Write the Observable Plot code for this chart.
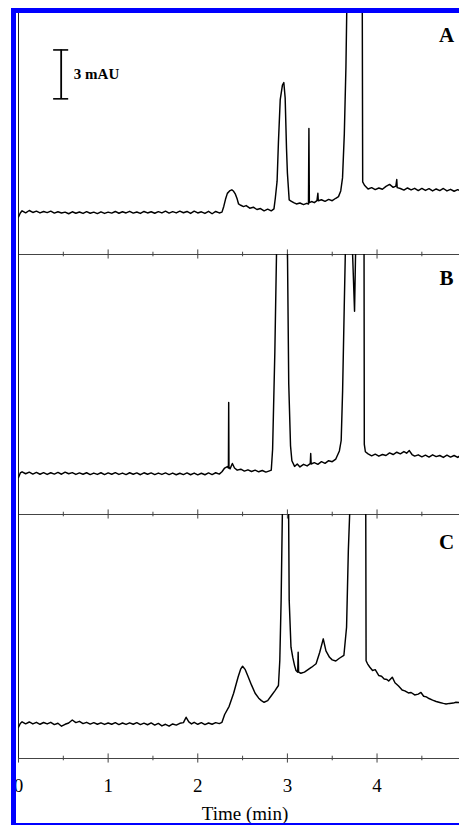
<!DOCTYPE html>
<html>
<head>
<meta charset="utf-8">
<script src="https://cdn.jsdelivr.net/npm/d3@7"></script>
<script src="https://cdn.jsdelivr.net/npm/@observablehq/plot@0.6"></script>
<style>
html, body { margin: 0; padding: 0; background: #fff; }
#wrap { position: relative; width: 459px; height: 825px; overflow: hidden; background: #fff; }
.panel { position: absolute; left: 0; }
.blue { position: absolute; background: #0000ff; z-index: 10; }
</style>
</head>
<body>
<div id="wrap"></div>
<script>
// ---------------- DATA (time in min, absorbance in mAU above panel baseline) ----------------
const majorTicks = [0, 1, 2, 3, 4];
const minorTicks = [0.5, 1.5, 2.5, 3.5, 4.5];
const tickLabels = ["0", "1", "2", "3", "4"];
const panelLabels = ["A", "B", "C"];
const scaleBarMAU = 3;
const scaleBarText = "3 mAU";
const xTitle = "Time (min)";

const traceA = [
[0,2.30],[0.02,2.55],[0.04,2.68],[0.08,2.56],[0.12,2.70],[0.16,2.58],[0.20,2.66],[0.24,2.55],[0.28,2.64],[0.32,2.57],
[0.36,2.66],[0.40,2.54],[0.44,2.62],[0.48,2.55],[0.52,2.60],[0.56,2.50],[0.60,2.62],[0.64,2.53],[0.68,2.61],[0.72,2.52],
[0.76,2.63],[0.80,2.53],[0.84,2.60],[0.88,2.51],[0.92,2.62],[0.96,2.52],[1.00,2.60],[1.04,2.54],[1.08,2.64],[1.12,2.53],
[1.16,2.62],[1.20,2.55],[1.24,2.65],[1.28,2.54],[1.32,2.61],[1.36,2.52],[1.40,2.64],[1.44,2.55],[1.48,2.62],[1.52,2.53],
[1.56,2.63],[1.60,2.55],[1.64,2.66],[1.68,2.54],[1.72,2.63],[1.76,2.55],[1.80,2.66],[1.84,2.56],[1.88,2.64],[1.92,2.52],
[1.96,2.66],[2.00,2.55],[2.04,2.62],[2.08,2.52],[2.12,2.65],[2.16,2.50],[2.20,2.64],[2.24,2.55],
[2.27,2.60],[2.29,2.95],[2.31,3.40],[2.33,3.75],[2.36,3.92],[2.38,3.97],[2.40,3.88],[2.42,3.70],[2.44,3.40],[2.455,3.10],
[2.48,3.02],[2.51,2.94],[2.54,3.00],[2.58,2.84],[2.62,2.90],[2.66,2.76],[2.70,2.82],[2.74,2.68],[2.78,2.78],[2.82,2.68],
[2.85,2.80],[2.865,3.45],[2.885,4.5],[2.90,6.9],[2.92,9.5],[2.945,10.4],[2.96,10.55],[2.975,9.6],[2.99,6.5],[3.00,5.0],
[3.02,3.35],[3.04,3.28],[3.07,3.18],[3.10,3.10],[3.14,3.16],[3.18,3.06],[3.215,3.14],[3.235,3.10],[3.24,7.73],[3.245,3.18],
[3.27,3.25],[3.30,3.18],[3.33,3.30],[3.34,3.76],[3.345,3.30],[3.38,3.36],[3.42,3.26],[3.46,3.38],[3.50,3.30],[3.54,3.45],
[3.57,3.55],[3.595,3.9],[3.615,4.7],[3.635,7.4],[3.653,11.5],[3.665,16],[3.75,45],[3.835,16],[3.84,4.45],[3.86,4.25],
[3.90,4.02],[3.94,4.10],[3.98,3.98],[4.02,4.08],[4.06,4.00],[4.10,4.18],[4.14,4.30],[4.18,4.12],[4.21,4.20],[4.22,4.60],
[4.225,4.10],[4.26,4.05],[4.30,3.95],[4.34,4.08],[4.38,3.96],[4.42,4.06],[4.46,3.92],[4.50,4.05],[4.54,3.93],[4.58,4.04],
[4.62,3.90],[4.66,4.02],[4.70,3.92],[4.74,4.05],[4.78,3.90],[4.82,4.00],[4.86,3.88],[4.90,3.98],[4.92,3.93]
];

const traceB = [
[0,2.27],[0.02,2.55],[0.04,2.62],[0.08,2.50],[0.12,2.60],[0.16,2.48],[0.20,2.58],[0.24,2.47],[0.28,2.57],[0.32,2.46],
[0.36,2.56],[0.40,2.48],[0.44,2.58],[0.48,2.47],[0.52,2.60],[0.56,2.50],[0.60,2.57],[0.64,2.46],[0.68,2.55],[0.72,2.47],
[0.76,2.56],[0.80,2.45],[0.84,2.54],[0.88,2.46],[0.92,2.56],[0.96,2.45],[1.00,2.55],[1.04,2.47],[1.08,2.57],[1.12,2.46],
[1.16,2.54],[1.20,2.45],[1.24,2.56],[1.28,2.47],[1.32,2.55],[1.36,2.44],[1.40,2.56],[1.44,2.47],[1.48,2.55],[1.52,2.45],
[1.56,2.54],[1.60,2.46],[1.64,2.55],[1.68,2.45],[1.72,2.54],[1.76,2.44],[1.80,2.53],[1.84,2.45],[1.88,2.55],[1.92,2.44],
[1.96,2.54],[2.00,2.43],[2.04,2.53],[2.08,2.44],[2.12,2.55],[2.16,2.45],[2.20,2.56],[2.24,2.48],
[2.27,2.62],[2.30,2.85],[2.33,2.94],[2.342,2.85],[2.345,6.87],[2.348,2.90],[2.36,2.80],[2.386,3.13],[2.41,2.85],[2.44,2.72],
[2.48,2.78],[2.52,2.66],[2.56,2.74],[2.60,2.64],[2.64,2.72],[2.68,2.62],[2.72,2.70],[2.76,2.60],[2.80,2.68],[2.82,2.72],
[2.835,4.0],[2.86,10],[2.88,16.5],[2.94,30],[3.00,16.5],[3.015,8],[3.035,4.2],[3.05,3.3],[3.08,2.95],[3.11,3.10],
[3.14,2.92],[3.18,3.08],[3.22,2.98],[3.255,3.12],[3.26,3.74],[3.265,3.10],[3.30,3.18],[3.34,3.08],[3.38,3.24],[3.42,3.14],
[3.46,3.30],[3.50,3.24],[3.54,3.40],[3.58,3.9],[3.60,4.54],[3.616,7.6],[3.634,12.7],[3.648,16.5],[3.69,30],[3.724,16.5],
[3.749,12.47],[3.762,16.5],[3.80,30],[3.855,16.5],[3.858,4.3],[3.87,3.85],[3.90,3.72],[3.94,3.60],[3.98,3.70],[4.02,3.58],
[4.06,3.68],[4.10,3.62],[4.14,3.78],[4.18,3.68],[4.22,3.82],[4.26,3.72],[4.30,3.86],[4.33,3.76],[4.36,3.92],[4.39,3.68],
[4.42,3.58],[4.46,3.66],[4.50,3.54],[4.54,3.64],[4.58,3.52],[4.62,3.66],[4.66,3.55],[4.70,3.62],[4.74,3.50],[4.78,3.64],
[4.82,3.52],[4.86,3.62],[4.90,3.50],[4.92,3.58]
];

const traceC = [
[0,1.92],[0.02,2.15],[0.04,2.25],[0.08,2.13],[0.12,2.24],[0.16,2.12],[0.20,2.22],[0.24,2.10],[0.28,2.21],[0.32,2.12],
[0.36,2.22],[0.40,2.08],[0.44,2.16],[0.48,1.98],[0.52,2.10],[0.56,2.18],[0.60,2.36],[0.64,2.20],[0.68,2.28],[0.72,2.14],
[0.76,2.22],[0.80,2.11],[0.84,2.20],[0.88,2.10],[0.92,2.19],[0.96,2.09],[1.00,2.18],[1.04,2.10],[1.08,2.20],[1.12,2.08],
[1.16,2.18],[1.20,2.09],[1.24,2.19],[1.28,2.10],[1.32,2.20],[1.36,2.08],[1.40,2.17],[1.44,2.07],[1.48,2.18],[1.52,2.05],
[1.56,2.15],[1.60,2.00],[1.64,2.10],[1.68,1.98],[1.72,2.12],[1.76,2.05],[1.80,2.16],[1.84,2.20],[1.87,2.53],[1.90,2.25],
[1.93,2.12],[1.96,2.22],[2.00,2.10],[2.04,2.20],[2.08,2.08],[2.12,2.18],[2.16,2.10],[2.20,2.20],[2.24,2.14],[2.27,2.22],
[2.30,2.70],[2.35,3.20],[2.40,4.00],[2.45,5.00],[2.48,5.50],[2.50,5.66],[2.53,5.45],[2.56,5.05],[2.60,4.50],[2.64,4.00],
[2.68,3.70],[2.71,3.55],[2.74,3.45],[2.78,3.55],[2.82,3.85],[2.86,4.15],[2.90,4.48],[2.915,6.0],[2.93,9.7],[2.945,15.5],
[2.98,30],[3.013,15.5],[3.02,9.7],[3.04,6.83],[3.06,6.2],[3.08,5.7],[3.096,5.4],[3.115,5.3],[3.12,6.52],[3.125,5.3],
[3.15,5.23],[3.19,5.30],[3.23,5.45],[3.27,5.60],[3.32,5.81],[3.36,6.50],[3.40,7.34],[3.43,6.60],[3.47,6.21],[3.50,6.05],
[3.54,5.98],[3.58,6.15],[3.63,6.32],[3.66,8.05],[3.68,12.8],[3.698,15.5],[3.79,35],[3.874,15.5],[3.878,6.0],[3.894,5.81],
[3.92,5.60],[3.95,5.40],[3.98,5.45],[4.02,5.09],[4.05,5.05],[4.08,4.88],[4.11,4.85],[4.13,4.75],[4.17,4.99],[4.20,4.65],
[4.24,4.45],[4.28,4.20],[4.31,4.15],[4.35,4.02],[4.38,4.05],[4.42,3.90],[4.46,3.95],[4.49,4.05],[4.52,3.82],[4.55,3.78],
[4.58,3.68],[4.62,3.58],[4.66,3.50],[4.70,3.44],[4.74,3.38],[4.77,3.34],[4.81,3.38],[4.85,3.40],[4.88,3.45],[4.92,3.44]
];

// ---------------- LAYOUT ----------------
const W = 459, ML = 18, PAD = 6;
const xDomain = [0, 4.92];
const serif = "'Liberation Serif', 'Times New Roman', Times, serif";
const axisColor = "#444";

function panel({trace, yMax, frameH, top, label, labelDy, bottomExtra = 0, extraMarks = []}) {
  const svg = Plot.plot({
    width: W,
    height: frameH + PAD + PAD + bottomExtra,
    marginLeft: ML, marginRight: 0, marginTop: PAD, marginBottom: PAD + bottomExtra,
    x: {domain: xDomain, axis: null},
    y: {domain: [0, yMax], axis: null},
    style: {background: "transparent", fontFamily: serif, color: "black", overflow: "visible"},
    marks: [
      Plot.ruleY([0], {stroke: axisColor, strokeWidth: 1}),
      Plot.ruleX(majorTicks, {x: d => d, y1: -0.28, y2: 0.28, stroke: axisColor, strokeWidth: 1}),
      Plot.ruleX(minorTicks, {x: d => d, y1: -0.14, y2: 0.14, stroke: axisColor, strokeWidth: 1}),
      Plot.ruleX([0], {stroke: "#222", strokeWidth: 1}),
      Plot.line(trace, {x: d => d[0], y: d => d[1], stroke: "black", strokeWidth: 1.45, clip: true, curve: "linear"}),
      Plot.text([label], {frameAnchor: "top-right", dx: -13, dy: labelDy, fontSize: 21, fontWeight: "bold",
        textAnchor: "middle", lineAnchor: "middle", fill: "black"}),
      ...extraMarks
    ]
  });
  svg.classList.add("panel");
  svg.style.top = (top - PAD) + "px";
  return svg;
}

const pxPerMAU = 16.3;
const wrap = document.getElementById("wrap");

// scale bar (panel A): base level and position chosen to match the figure
const sbX = 0.476, sbBase = 9.55, sbCap = 0.084;
const scaleMarks = [
  Plot.ruleX([sbX], {x: d => d, y1: sbBase, y2: sbBase + scaleBarMAU, stroke: "black", strokeWidth: 1.8}),
  Plot.ruleY([sbBase, sbBase + scaleBarMAU], {y: d => d, x1: sbX - sbCap, x2: sbX + sbCap, stroke: "black", strokeWidth: 1.6}),
  Plot.text([scaleBarText], {x: 0.617, y: sbBase + scaleBarMAU / 2, textAnchor: "start", lineAnchor: "middle",
    fontSize: 15, fontWeight: "bold", fill: "black"})
];

const bottomMarks = [
  Plot.text(tickLabels, {x: d => +d, text: d => d, frameAnchor: "bottom", dy: 27, fontSize: 19,
    textAnchor: "middle", lineAnchor: "middle", fill: "black"}),
  Plot.text([xTitle], {frameAnchor: "bottom", dx: 6, dy: 55, fontSize: 19, textAnchor: "middle",
    lineAnchor: "middle", fill: "black"})
];

wrap.appendChild(panel({trace: traceA, yMax: 241 / pxPerMAU, frameH: 241, top: 13, label: panelLabels[0], labelDy: 22, extraMarks: scaleMarks}));
wrap.appendChild(panel({trace: traceB, yMax: 260 / pxPerMAU, frameH: 260, top: 254, label: panelLabels[1], labelDy: 24}));
wrap.appendChild(panel({trace: traceC, yMax: 244 / pxPerMAU, frameH: 244, top: 514, label: panelLabels[2], labelDy: 28, bottomExtra: 61, extraMarks: bottomMarks}));

// blue page border
[[11, 8, 448, 5], [11, 8, 5, 817], [11, 823, 448, 2]].forEach(([l, t, w, h]) => {
  const d = document.createElement("div");
  d.className = "blue";
  Object.assign(d.style, {left: l + "px", top: t + "px", width: w + "px", height: h + "px"});
  wrap.appendChild(d);
});
</script>
</body>
</html>
